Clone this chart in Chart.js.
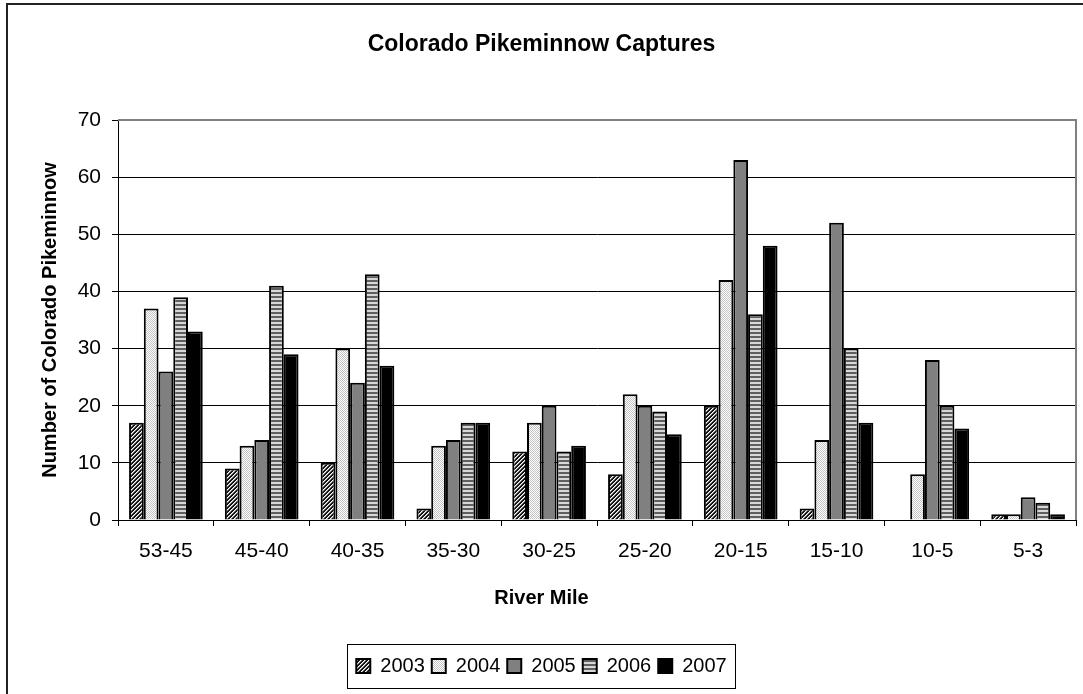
<!DOCTYPE html>
<html>
<head>
<meta charset="utf-8">
<script src="https://cdn.jsdelivr.net/npm/chart.js@4"></script>
<style>
  html, body { margin: 0; padding: 0; background: #fff; }
  #wrap { width: 1083px; height: 694px; }
</style>
</head>
<body>
<div id="wrap"><canvas id="c" width="1083" height="694"></canvas></div>
<script>
const categories = ['53-45','45-40','40-35','35-30','30-25','25-20','20-15','15-10','10-5','5-3'];
const seriesNames = ['2003','2004','2005','2006','2007'];
const v2003 = [17, 9, 10, 2, 12, 8, 20, 2, 0, 1];
const v2004 = [37, 13, 30, 13, 17, 22, 42, 14, 8, 1];
const v2005 = [26, 14, 24, 14, 20, 20, 63, 52, 28, 4];
const v2006 = [39, 41, 43, 17, 12, 19, 36, 30, 20, 3];
const v2007 = [33, 29, 27, 17, 13, 15, 48, 17, 16, 1];
const yTicks = [0, 10, 20, 30, 40, 50, 60, 70];

function pixelPattern(w, h, fn) {
  const c = document.createElement('canvas');
  c.width = w; c.height = h;
  const g = c.getContext('2d');
  const img = g.createImageData(w, h);
  for (let y = 0; y < h; y++) for (let x = 0; x < w; x++) {
    const v = fn(x, y);
    const i = (y * w + x) * 4;
    img.data[i] = v; img.data[i+1] = v; img.data[i+2] = v; img.data[i+3] = 255;
  }
  g.putImageData(img, 0, 0);
  return g.createPattern(c, 'repeat');
}
const ctx = document.getElementById('c').getContext('2d');
const pat2003 = pixelPattern(4, 4, (x, y) => { const k = (x + y) % 4; return k === 0 ? 255 : (k === 1 ? 150 : 20); });
const pat2004 = pixelPattern(4, 4, (x, y) => ((x + y) % 2 === 0) ? 195 : 255);
const pat2006 = pixelPattern(4, 4, (x, y) => (y % 4 < 2) ? 95 : 215);
const fills = [pat2003, pat2004, '#808080', pat2006, '#000000'];
const values = [v2003, v2004, v2005, v2006, v2007];

Chart.defaults.color = '#000';
Chart.defaults.font.family = "Arial, 'Liberation Sans', sans-serif";

const frame = {
  id: 'frame',
  beforeDraw(chart) {
    const g = chart.ctx;
    g.save();
    g.fillStyle = '#fff';
    g.fillRect(0, 0, chart.width, chart.height);
    g.strokeStyle = '#222';
    g.lineWidth = 2;
    g.strokeRect(7, 4, 1400, 1000);
    g.restore();
  },
  afterDraw(chart) {
    const a = chart.chartArea;
    const g = chart.ctx;
    g.save();
    g.strokeStyle = '#808080';
    g.lineWidth = 2;
    g.beginPath();
    g.moveTo(a.left, a.top);
    g.lineTo(a.right, a.top);
    g.lineTo(a.right, a.bottom);
    g.stroke();
    const hb = chart.legend.legendHitBoxes;
    if (hb && hb.length) {
      let l = Infinity, r = -Infinity, t = Infinity, b = -Infinity;
      hb.forEach(h => { l = Math.min(l, h.left); r = Math.max(r, h.left + h.width); t = Math.min(t, h.top); b = Math.max(b, h.top + h.height); });
      g.strokeStyle = '#000';
      g.lineWidth = 1;
      g.strokeRect(Math.round(l - 9) + 0.5, Math.round(t - 12) + 0.5, Math.round(r - l + 18), Math.round(b - t + 24));
    }
    g.restore();
  }
};

new Chart(ctx, {
  type: 'bar',
  data: {
    labels: categories,
    datasets: seriesNames.map((n, i) => ({
      label: n,
      data: values[i],
      backgroundColor: fills[i],
      borderColor: '#000',
      borderWidth: 2,
      categoryPercentage: 0.769,
      barPercentage: 1.0
    }))
  },
  options: {
    responsive: false,
    animation: false,
    devicePixelRatio: 1,
    layout: { padding: { left: 7, right: 7, top: 0, bottom: 8 } },
    plugins: {
      title: {
        display: true,
        text: 'Colorado Pikeminnow Captures',
        font: { size: 23, weight: 'bold' },
        padding: { top: 31.2, bottom: 61.2 },
        color: '#000'
      },
      subtitle: {
        display: true,
        position: 'bottom',
        weight: 500,
        text: 'River Mile',
        font: { size: 20, weight: 'bold' },
        padding: { top: 0, bottom: 39 },
        color: '#000'
      },
      legend: {
        position: 'bottom',
        weight: 1000,
        labels: {
          boxWidth: 14,
          boxHeight: 14,
          padding: 7,
          font: { size: 20 },
          color: '#000'
        }
      },
      tooltip: { enabled: false }
    },
    scales: {
      x: {
        grid: { drawOnChartArea: false, drawTicks: true, tickLength: 6, color: '#000', offset: true },
        border: { color: '#000', width: 1 },
        ticks: { font: { size: 21 }, padding: 13, color: '#000', maxRotation: 0 },
        afterFit(s) { s.height = 66; }
      },
      y: {
        min: 0, max: 70,
        afterBuildTicks(s) { s.ticks = yTicks.map(v => ({ value: v })); },
        grid: { color: '#000', tickLength: 6, drawTicks: true },
        border: { color: '#000', width: 1 },
        ticks: { font: { size: 21 }, padding: 11, color: '#000' },
        title: { display: true, text: 'Number of Colorado Pikeminnow', font: { size: 20, weight: 'bold' }, padding: { top: 31, bottom: 0 }, color: '#000' },
        afterFit(s) { s.width = 111; }
      }
    }
  },
  plugins: [frame]
});
</script>
</body>
</html>
